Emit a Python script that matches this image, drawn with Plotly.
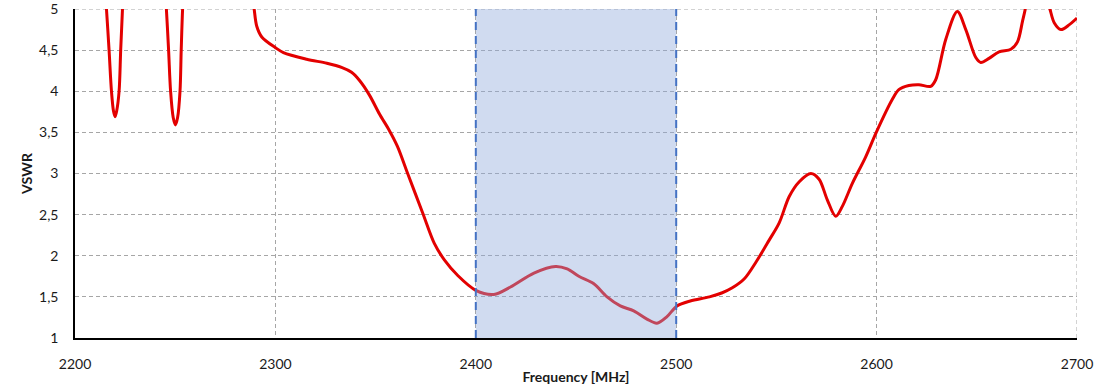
import plotly.graph_objects as go

# Frequency [MHz] and VSWR (values above 5 are clipped by the axis)
freq = [2200, 2210, 2214, 2215.7, 2217, 2218.2, 2219.2, 2220, 2220.8, 2222, 2222.8, 2223.7, 2226,
        2236, 2244, 2245.6, 2246.7, 2247.7, 2249, 2250.1, 2251.2, 2252.4, 2253, 2253.7, 2256,
        2275, 2288, 2289.4, 2290.7, 2293.2, 2300, 2304, 2315.6, 2325.7, 2333, 2338, 2342,
        2347, 2352, 2356.7, 2360.9, 2366, 2373.5, 2379.3, 2384.3, 2391, 2400, 2409, 2417.3, 2429,
        2439.8, 2445.6, 2451.4, 2458.9, 2465.5, 2472.1, 2478.8, 2485.4, 2490.4, 2495.4, 2500.4,
        2507, 2516.6, 2523, 2528, 2534, 2540, 2546.4, 2551.4, 2556.4, 2561.4, 2567.2, 2571.3,
        2575.4, 2579.6, 2582.9, 2587.9, 2594.5, 2600, 2607.8, 2611.1, 2616.1, 2621.1, 2627,
        2629.5, 2634.5, 2640.3, 2644.5, 2649.5, 2652, 2656.1, 2661.1, 2667, 2670.3, 2672.8,
        2674.2, 2676, 2680, 2684.5, 2686.5, 2688.7, 2692, 2696.2, 2700]
vswr = [6.6, 6.4, 5.6, 5.0, 4.5, 4.0, 3.76, 3.69, 3.76, 4.0, 4.5, 5.0, 6.0,
        6.6, 5.6, 5.0, 4.5, 4.0, 3.68, 3.59, 3.68, 4.0, 4.5, 5.0, 6.0,
        6.6, 5.3, 5.0, 4.79, 4.66, 4.53, 4.47, 4.39, 4.34, 4.29, 4.23, 4.13,
        3.95, 3.72, 3.53, 3.33, 3.00, 2.52, 2.15, 1.95, 1.76, 1.58, 1.53, 1.62, 1.79,
        1.87, 1.84, 1.75, 1.66, 1.50, 1.39, 1.33, 1.23, 1.18, 1.26, 1.39,
        1.45, 1.50, 1.55, 1.61, 1.72, 1.93, 2.19, 2.40, 2.72, 2.90, 3.00, 2.93,
        2.68, 2.48, 2.60, 2.88, 3.20, 3.51, 3.90, 4.02, 4.07, 4.08, 4.06,
        4.14, 4.63, 4.97, 4.75, 4.41, 4.35, 4.40, 4.48, 4.51, 4.60, 4.85,
        5.0, 5.25, 5.35, 5.2, 5.0, 4.83, 4.75, 4.81, 4.89]

band = [2400, 2500]
x_ticks = [2200, 2300, 2400, 2500, 2600, 2700]
y_ticks = [1, 1.5, 2, 2.5, 3, 3.5, 4, 4.5, 5]
y_ticktext = ["1", "1,5", "2", "2,5", "3", "3,5", "4", "4,5", "5"]

x_range = [x_ticks[0], x_ticks[-1]]
y_range = [y_ticks[0], y_ticks[-1]]
grid_col = "#A6A6A6"

fig = go.Figure()
fig.add_trace(go.Scatter(x=freq, y=vswr, mode="lines",
                         line=dict(color="#E30000", width=3, shape="spline", smoothing=0.9),
                         showlegend=False, hoverinfo="skip"))

# Edge gridlines (top and right), which plotly omits at the range limits
fig.add_shape(type="line", xref="x", yref="y", x0=x_range[0], x1=x_range[1], y0=y_range[1], y1=y_range[1],
              line=dict(color=grid_col, width=1, dash="4px,3px"), layer="below")
fig.add_shape(type="line", xref="x", yref="y", x0=x_range[1], x1=x_range[1], y0=y_range[0], y1=y_range[1],
              line=dict(color=grid_col, width=1, dash="4px,3px"), layer="below")

# Shaded band above the line (semi-transparent), with dashed borders
fig.add_shape(type="rect", xref="x", yref="y", x0=band[0], x1=band[1], y0=y_range[0], y1=y_range[1],
              fillcolor="#8FAADC", opacity=0.42, line_width=0, layer="above")
for bx in band:
    fig.add_shape(type="line", xref="x", yref="y", x0=bx, x1=bx, y0=y_range[0], y1=y_range[1],
                  line=dict(color="#4472C4", width=2, dash="8px,6px"), layer="above")

font = "Lato, 'Liberation Sans', sans-serif"
fig.update_layout(
    width=1110, height=389,
    margin=dict(l=75, r=33, t=9, b=51),
    paper_bgcolor="white", plot_bgcolor="white",
    font=dict(family=font, size=14, color="#1a1a1a"),
    xaxis=dict(range=x_range, tickvals=x_ticks, ticktext=[str(v) for v in x_ticks],
               showgrid=True, gridcolor=grid_col, gridwidth=1, griddash="4px,3px",
               showline=True, linecolor="black", linewidth=1.5,
               ticks="outside", ticklen=12, tickcolor="rgba(0,0,0,0)",
               ticklabeloverflow="allow", automargin=False,
               zeroline=False, fixedrange=True,
               title=dict(text="<b>Frequency [MHz]</b>", font=dict(size=14), standoff=2)),
    yaxis=dict(range=y_range, tickvals=y_ticks, ticktext=y_ticktext,
               showgrid=True, gridcolor=grid_col, gridwidth=1, griddash="4px,3px",
               showline=True, linecolor="black", linewidth=1.5,
               ticks="outside", ticklen=12, tickcolor="rgba(0,0,0,0)",
               ticklabeloverflow="allow", automargin=False,
               zeroline=False, fixedrange=True,
               title=dict(text="<b>VSWR</b>", font=dict(size=14), standoff=3)),
)

fig.write_html("out.html", config={"displayModeBar": False},
               post_script="document.body.style.margin='0';")
